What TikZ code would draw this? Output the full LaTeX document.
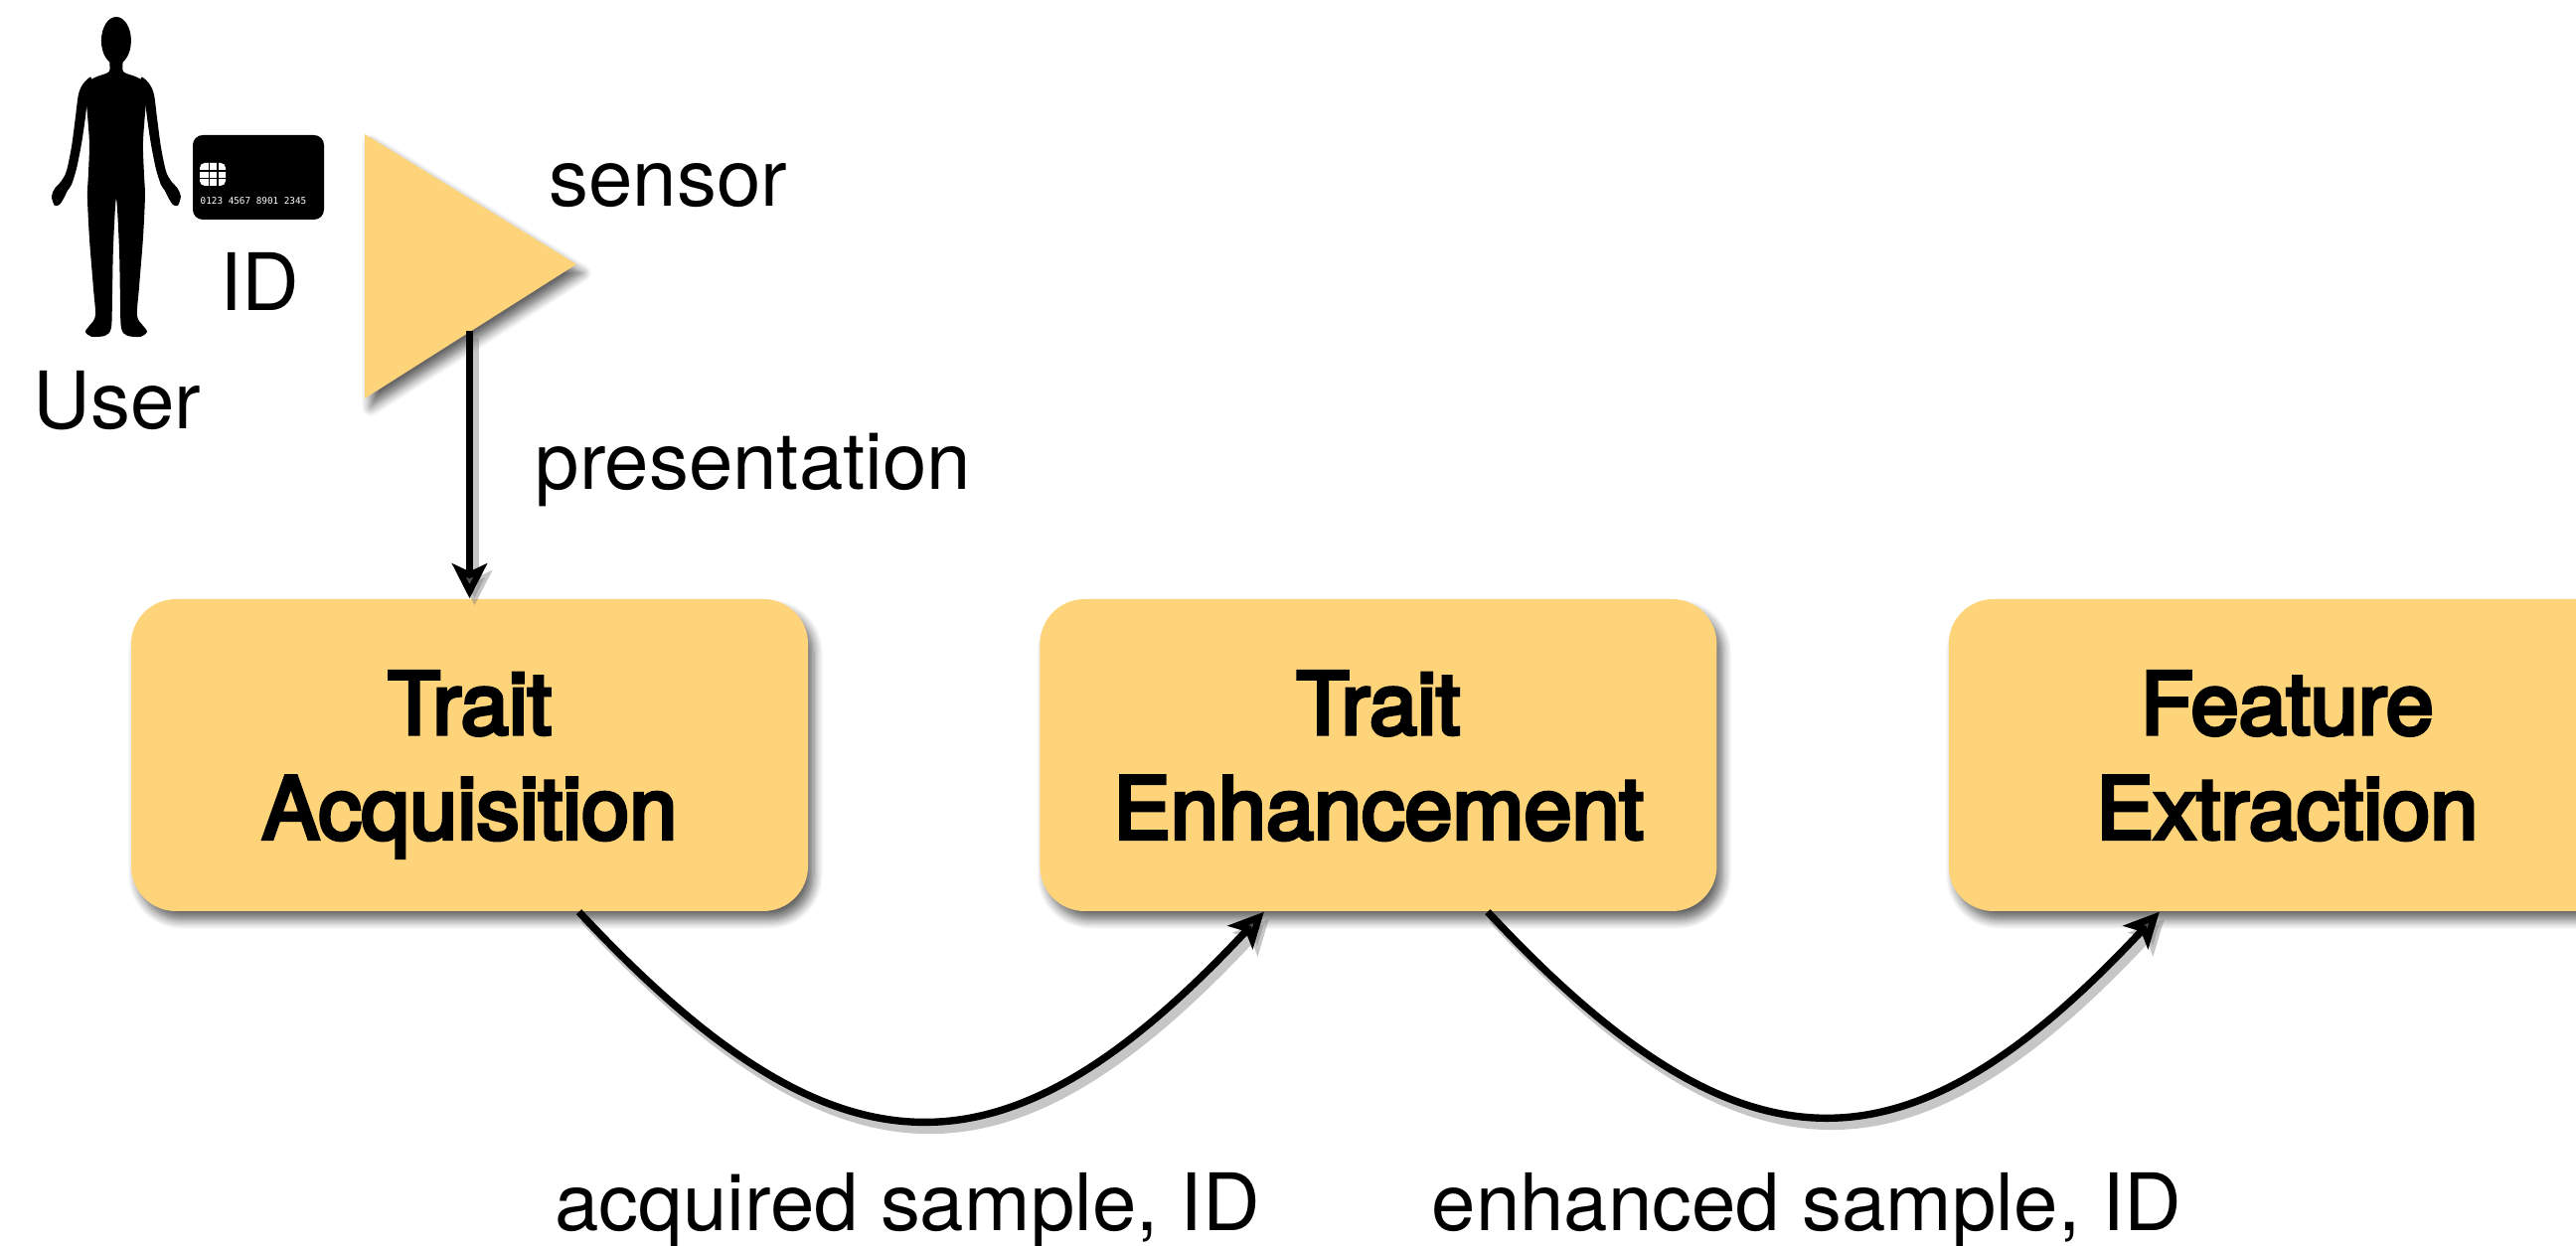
\documentclass[tikz,border=0pt]{standalone}
\usepackage{fontspec}
\setmainfont{TeX Gyre Heros}
\newfontfamily\stagefont{TeX Gyre Heros}[FakeBold=4.5]
\newfontfamily\cardfont{DejaVu Sans Mono}
\usetikzlibrary{positioning,calc,arrows.meta,shadows.blur}

\definecolor{stageyellow}{RGB}{254,212,122}

\tikzset{
  softshadow/.style={blur shadow={shadow xshift=0.6mm, shadow yshift=-0.9mm,
      shadow blur radius=0.9mm, shadow blur steps=8, shadow opacity=60}},
  stage/.style={rectangle, rounded corners=0.45cm, fill=stageyellow,
    minimum width=6.81cm, minimum height=3.14cm, align=center, text depth=0pt,
    font=\stagefont\fontsize{24.6}{30}\selectfont, softshadow},
  sensorshape/.style={fill=stageyellow, softshadow},
  lbl/.style={inner sep=0pt, font=\fontsize{22.7}{27}\selectfont},
  lineshadow/.style={preaction={draw=black!50, opacity=0.45, line width=#1,
      transform canvas={xshift=0.5mm, yshift=-0.7mm}}},
  flow/.style={line width=1.8pt, -{Stealth[length=3.5mm, width=3.5mm, inset=0.8mm]},
    lineshadow=2.4pt},
  sampleflow/.style={line width=2.1pt, -{Stealth[length=3.5mm, width=3.4mm, inset=0.8mm]},
    lineshadow=2.7pt},
  idcard/.style={rectangle, rounded corners=0.1cm, fill=black,
    minimum width=1.32cm, minimum height=0.85cm, inner sep=0pt},
  chip/.style={rectangle, rounded corners=0.05cm, fill=white,
    minimum width=0.26cm, minimum height=0.23cm, inner sep=0pt},
  chipline/.style={black, line width=0.35pt},
  cardnum/.style={text=white, inner sep=0pt, font=\cardfont\fontsize{2.65}{3}\selectfont}
}

\begin{document}
\begin{tikzpicture}
  \useasboundingbox (0,0) rectangle (25.92,12.54);

  % user silhouette (drawn in pixel units, y downwards)
  \begin{scope}[shift={(0,12.54)}, x=0.01cm, y=-0.01cm]
    \fill (117,41) ellipse [x radius=15, y radius=24];
    \fill plot[smooth cycle, tension=0.5] coordinates {
      (111,60) (110,72) (98,77) (89,82) (86,92) (88,115) (90,145) (89,175)
      (88,198) (90,240) (94,290) (96,318) (90,328) (86,334) (92,339) (106,338)
      (112,330) (113,300) (114,250) (117,200)
      (120,250) (121,300) (122,330) (128,338) (142,339) (148,334) (144,328)
      (138,318) (140,290) (144,240) (146,198) (145,175) (144,145) (146,115)
      (148,92) (145,82) (136,77) (124,72) (123,60)};
    \foreach \s in {1,-1} {
      \begin{scope}[xshift={(1-\s)*117*0.01cm}, xscale=\s]
        \fill plot[smooth cycle, tension=0.5] coordinates {
          (92,78) (84,84) (79,95) (76,118) (72,148) (67,172) (62,182) (55,190)
          (52,198) (55,207) (60,206) (64,200) (68,192) (72,186) (77,170)
          (82,145) (86,118) (88,100)};
      \end{scope}
    }
  \end{scope}

  % ID card
  \node[idcard] (card) at (2.60,10.755) {};
  \node[chip] (chip) at ([shift={(-0.46,0.03)}]card.center) {};
  \foreach \f in {0.36,0.68} {
    \draw[chipline] ($(chip.north west)!\f!(chip.south west)$) -- ($(chip.north east)!\f!(chip.south east)$);
    \draw[chipline] ($(chip.north west)!\f!(chip.north east)$) -- ($(chip.south west)!\f!(chip.south east)$);
  }
  \node[cardnum] (cardno) at ([shift={(-0.05,-0.24)}]card.center) {0123 4567 8901 2345};

  % sensor
  \coordinate (s1) at (3.67,11.19);
  \coordinate (s2) at (5.80,9.88);
  \coordinate (s3) at (3.67,8.53);
  \fill[sensorshape] (s1) -- (s2) -- (s3) -- cycle;
  \coordinate (feed) at ($(s2)!0.5!(s3)$);

  % stages
  \node[stage] (acq) at (4.725,4.94) {Trait\\Acquisition};
  \node[stage, right=2.32cm of acq] (enh) {Trait\\Enhancement};
  \node[stage, right=2.32cm of enh] (feat) {Feature\\Extraction};

  \draw[flow] (feed -| acq.north) -- (acq.north);
  \draw[sampleflow] ([xshift=1.1cm]acq.south) to[out=-47, in=-133, looseness=1.42] ([xshift=-1.15cm]enh.south);
  \draw[sampleflow] ([xshift=1.1cm]enh.south) to[out=-47, in=-133, looseness=1.42] ([xshift=-1.285cm]feat.south);

  \node[lbl, anchor=base] (userlbl) at (1.18,8.22) {User};
  \node[lbl, anchor=base] (idlbl) at (2.61,9.41) {ID};
  \node[lbl, anchor=base west] (sensorlbl) at (5.52,10.46) {sensor};
  \node[lbl, anchor=base west] (preslbl) at (5.38,7.61) {presentation};
  \node[lbl, anchor=base] (acqlbl) at (9.13,0.15) {acquired sample, ID};
  \node[lbl, anchor=base] (enhlbl) at (18.18,0.15) {enhanced sample, ID};
\end{tikzpicture}
\end{document}
